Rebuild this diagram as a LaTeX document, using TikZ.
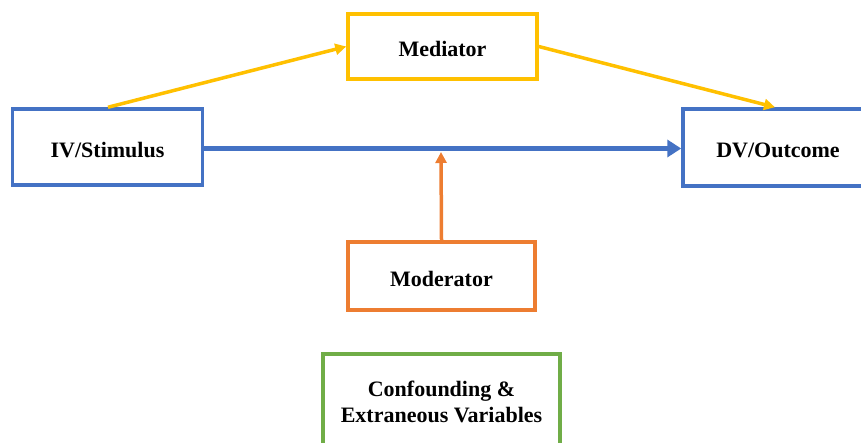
\documentclass[tikz,border=0pt]{standalone}
\usepackage{fontspec}
\setmainfont{Liberation Serif}
\usetikzlibrary{arrows.meta}
\definecolor{cblue}{HTML}{4472C4}
\definecolor{corange}{HTML}{ED7D31}
\definecolor{cyellow}{HTML}{FFC000}
\definecolor{cgreen}{HTML}{70AD47}
\begin{document}
\begin{tikzpicture}[x=1pt,y=-1pt,
  box/.style={draw, line width=3.5pt, fill=white, inner sep=0pt,
    text height=21pt, text depth=1pt,
    font=\fontsize{22}{26}\selectfont\bfseries, align=center},
  link/.style={line width=3.5pt, -{Triangle[length=11pt,width=11pt]}}]
\useasboundingbox (0,0) rectangle (861,442);
\clip (0,0) rectangle (861,442);
% boxes, sized by their corners
\node[box, draw=cblue, minimum width=190, minimum height=76] (iv) at (107.5,147) {IV/Stimulus};
\node[box, draw=cblue, minimum width=190, minimum height=77] (dv) at (778,147.5) {DV/Outcome};
\node[box, draw=cyellow, minimum width=189, minimum height=65] (med) at (442.5,46.5) {Mediator};
\node[box, draw=corange, minimum width=187, minimum height=68] (mod) at (441.5,276) {Moderator};
\node[box, draw=cgreen, minimum width=237, minimum height=96, text height=, text depth=] (conf) at (441.5,402) {Confounding \&\\Extraneous Variables};
% connector ends
\coordinate (ivx) at (108,0);
\coordinate (dvx) at (775,0);
\coordinate (ivtop) at (ivx |- iv.north);
\coordinate (dvtop) at (dvx |- dv.north);
\coordinate (lane) at (0,148.5);
\coordinate (hit) at (441,152);
\draw[draw=cblue, line width=5pt, -{Triangle[length=14pt,width=17pt]}]
  (iv.east |- lane) -- (dv.west |- lane);
\draw[link, draw=corange] (mod.north) -- (hit);
\draw[link, draw=cyellow] (ivtop) -- (med.west);
\draw[link, draw=cyellow] (med.east) -- (dvtop);
\end{tikzpicture}
\end{document}
